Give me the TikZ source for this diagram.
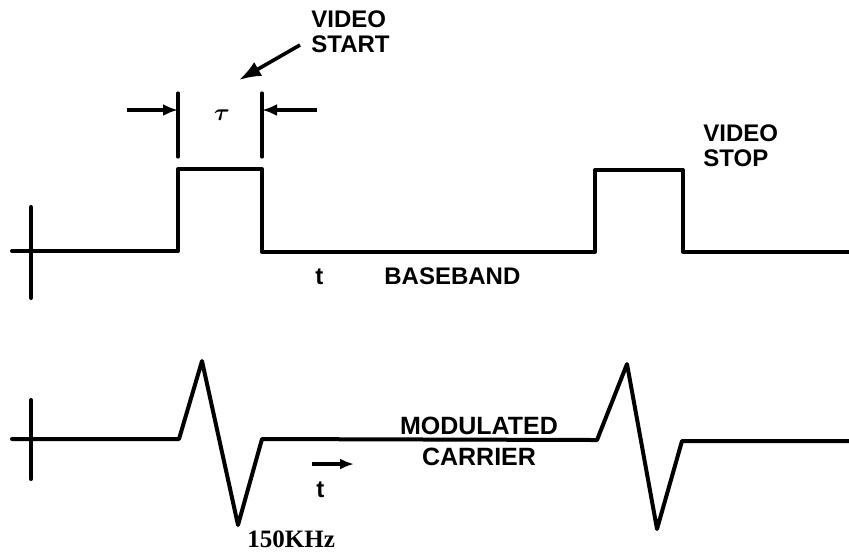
\documentclass[tikz,border=0pt]{standalone}
\usepackage{fontspec}
\setmainfont{Liberation Sans}
\newfontfamily\khzfont{Liberation Serif}
\usetikzlibrary{arrows.meta}
\begin{document}
\begin{tikzpicture}[x=0.5pt,y=-0.5pt,
  wave/.style={line width=2pt,line join=round,line cap=round},
  dimline/.style={line width=1.6pt,line cap=round},
  dimarrow/.style={line width=1.6pt,-{Latex[length=7.5pt,width=6pt]}},
  label/.style={inner sep=0pt,font=\fontsize{12}{12.5}\selectfont\bfseries}]
\useasboundingbox (0,0) rectangle (849,554);

\draw[wave] (12,251) -- (178,251) -- (178,169) -- (262,169) -- (262,252)
  -- (595,252) -- (595,170) -- (683,170) -- (683,252) -- (849,252);
\draw[wave] (31,207) -- (31,298);

\draw[dimline] (178,93) -- (178,157);
\draw[dimline] (262,93) -- (262,157);
\coordinate (dimL) at (127,110);
\coordinate (dimLend) at (178,110);
\coordinate (dimR) at (317,110);
\coordinate (dimRend) at (262,110);
\draw[dimarrow] (dimL) -- (dimLend);
\draw[dimarrow] (dimR) -- (dimRend);
\node[font=\large\mathversion{bold}] (tau) at (222,115) {$\tau$};

\node[label,anchor=north west,align=left] (vstart) at (311,10) {VIDEO\\START};
\coordinate (vstarttail) at (300,45);
\coordinate (vstarttip) at (239,80);
\draw[line width=1.8pt,-{Latex[length=11pt,width=8pt]}] (vstarttail) -- (vstarttip);

\node[label,anchor=north west,align=left] (vstop) at (703,124) {VIDEO\\STOP};

\node[label,anchor=base west] (tbase) at (315,284) {t};
\node[label,anchor=base west] (baseband) at (384,284) {BASEBAND};

\draw[wave] (12,439) -- (179,439) -- (202,361) -- (238,525) -- (262,439)
  -- (597,440) -- (627,364) -- (657,529) -- (682,441) -- (849,441);
\draw[wave] (31,400) -- (31,479);

\node[inner sep=0pt,anchor=north,align=center,font=\fontsize{12.5}{15.5}\selectfont\bfseries]
  (modulated) at (479,417) {MODULATED\\CARRIER};
\coordinate (tarrowL) at (312,464);
\coordinate (tarrowR) at (354,464);
\draw[line width=2pt,-{Latex[length=7pt,width=5.5pt]}] (tarrowL) -- (tarrowR);
\node[label,anchor=base west] (tmod) at (316,497) {t};

\node[inner sep=0pt,anchor=base west,font=\fontsize{12.5}{14}\selectfont\khzfont\bfseries]
  (khz) at (247,547) {150KHz};
\end{tikzpicture}
\end{document}
